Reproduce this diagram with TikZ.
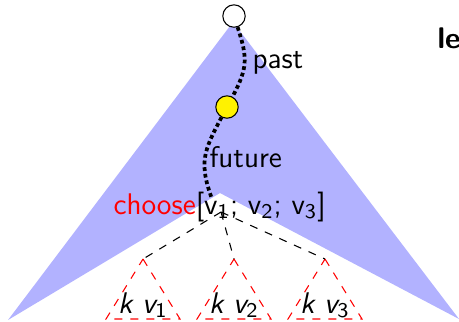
\documentclass[tikz,border=0pt]{standalone}
\usepackage{tikz}
\usetikzlibrary{arrows.meta,positioning,calc}

\begin{document}
\begin{tikzpicture}[
  x=0.375pt, y=-0.375pt,
  every node/.style={font=\fontsize{11.2}{13}\selectfont\sffamily},
  state/.style={draw, circle, inner sep=0pt, minimum size=8.4pt},
  trail/.style={line width=1.4pt, dash pattern=on 1.4pt off 1.1pt},
  link/.style={dashed, thin},
  sub/.style={draw=red, dashed, thin},
  lbl/.style={anchor=base west, inner sep=0pt}
]
  \useasboundingbox (0,0) rectangle (459,321);

  % the space of runs
  \fill[blue!30] (233,22) -- (459,319) -- (220,193) -- (8,320) -- cycle;

  \node[state, fill=white]  (top) at (234,16)  {};
  \node[state, fill=yellow] (now) at (227,107) {};
  \coordinate (ch) at (212,199);

  \draw[trail] (top) to[out=-72, in=62, looseness=1.2]  (now);
  \draw[trail] (now) to[out=-118, in=110, looseness=1.2] (ch);

  \node[lbl] (past) at (252,68)  {past};
  \node[lbl] (fut)  at (209,167) {future};
  \node[lbl] (pick) at (113,214)
    {\textcolor{red}{choose}[v\textsubscript{1}; v\textsubscript{2}; v\textsubscript{3}]};
  \node[lbl, font=\fontsize{11.2}{13}\selectfont\sffamily\bfseries] (side) at (437,48) {le};

  % the sub-trees
  \coordinate (split) at (221,212);
  \foreach \x/\i in {143/1, 234/2, 325/3} {
    \coordinate (t\i) at (\x,259);
    \draw[sub] (t\i) -- ++(37,60) -- ++(-74,0) -- cycle;
    \node[anchor=base, inner sep=0pt] (k\i) at (\x,313) {{\slshape k v}\textsubscript{\i}};
    \draw[link] (split) -- (t\i);
  }
\end{tikzpicture}
\end{document}
